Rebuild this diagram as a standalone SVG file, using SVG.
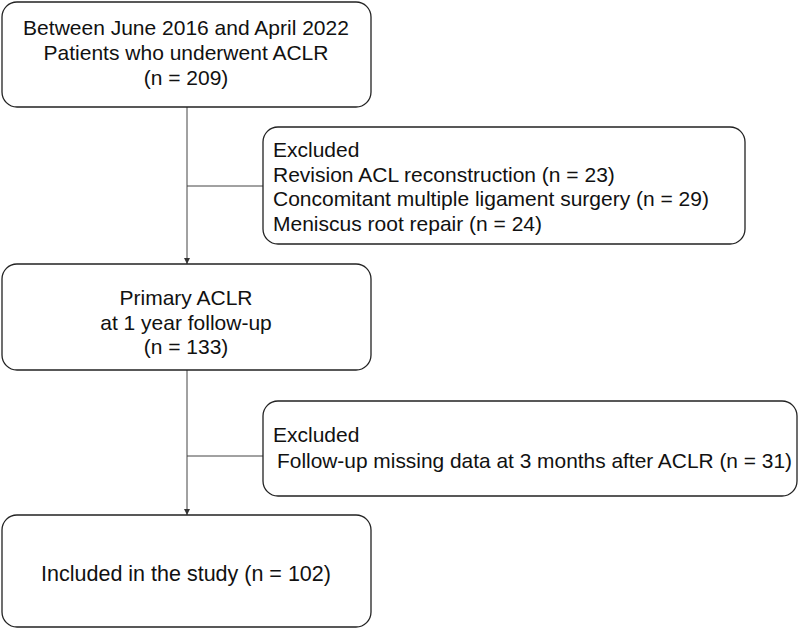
<svg xmlns="http://www.w3.org/2000/svg" width="800" height="630" viewBox="0 0 800 630">
<style>
.box{fill:#fff;stroke:#222;stroke-width:1.3}
.t{font-family:"Liberation Sans",Arial,sans-serif;font-size:21px;fill:#111}
.c{text-anchor:middle}
.ln{stroke:#444;stroke-width:1;fill:none}
</style>
<defs>
<marker id="ah" viewBox="0 0 10 10" refX="10" refY="5" markerWidth="6" markerHeight="6" orient="auto" markerUnits="userSpaceOnUse">
<path d="M0,0 L10,5 L0,10 z" fill="#333"/>
</marker>
</defs>
<rect width="800" height="630" fill="#fff"/>
<g id="connectors">
<line class="ln" x1="187" y1="107" x2="187" y2="264" marker-end="url(#ah)"/>
<line class="ln" x1="187" y1="186" x2="263" y2="186"/>
<line class="ln" x1="187" y1="370" x2="187" y2="515" marker-end="url(#ah)"/>
<line class="ln" x1="187" y1="456" x2="263" y2="456"/>
</g>
<g id="n1">
<rect class="box" x="2" y="2" width="369" height="105" rx="15"/>
<text class="t c" x="186" y="35">Between June 2016 and April 2022</text>
<text class="t c" x="186" y="60">Patients who underwent ACLR</text>
<text class="t c" x="186" y="85">(n = 209)</text>
</g>
<g id="ex1">
<rect class="box" x="263" y="127" width="482" height="117" rx="15"/>
<text class="t" x="273" y="157">Excluded</text>
<text class="t" x="273" y="182">Revision ACL reconstruction (n = 23)</text>
<text class="t" x="273" y="206">Concomitant multiple ligament surgery (n = 29)</text>
<text class="t" x="273" y="231">Meniscus root repair (n = 24)</text>
</g>
<g id="n2">
<rect class="box" x="2" y="264" width="369" height="106" rx="15"/>
<text class="t c" x="186" y="305">Primary ACLR</text>
<text class="t c" x="186" y="330">at 1 year follow-up</text>
<text class="t c" x="186" y="354">(n = 133)</text>
</g>
<g id="ex2">
<rect class="box" x="263" y="401" width="534" height="95" rx="15"/>
<text class="t" x="273" y="442">Excluded</text>
<text class="t" x="277" y="468" textLength="515" lengthAdjust="spacingAndGlyphs">Follow-up missing data at 3 months after ACLR (n = 31)</text>
</g>
<g id="n3">
<rect class="box" x="2" y="515" width="369" height="112" rx="15"/>
<text class="t c" x="186" y="581" style="font-size:21.5px">Included in the study (n = 102)</text>
</g>
</svg>
